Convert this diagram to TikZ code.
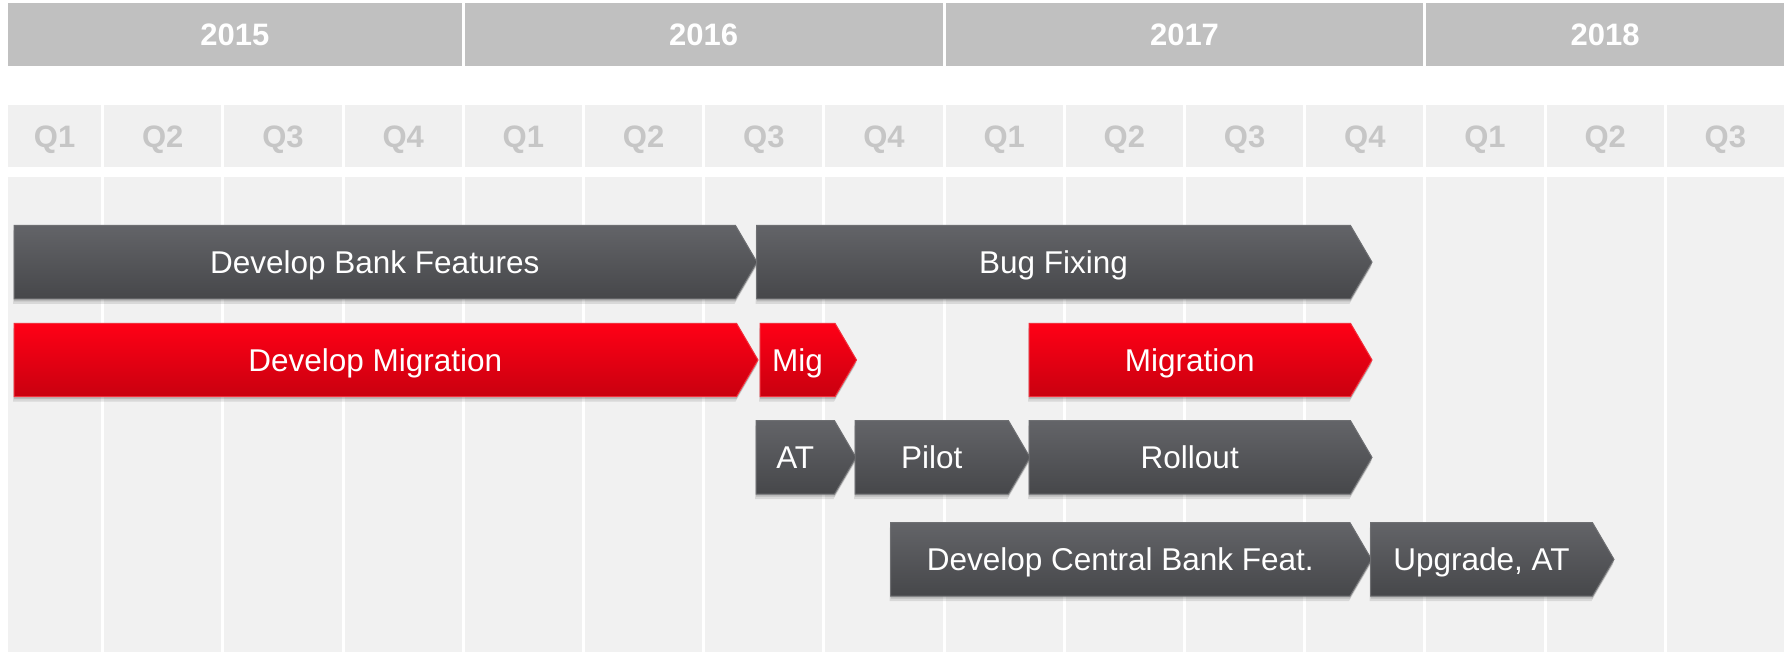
\documentclass[tikz,border=0pt]{standalone}
\usepackage{fontspec}
\setmainfont{Liberation Sans}
\usetikzlibrary{calc}

\definecolor{yearbar}{HTML}{C0C0C0}
\definecolor{qcell}{HTML}{F0F0F0}
\definecolor{qtext}{HTML}{C6C6C6}
\definecolor{gridcell}{HTML}{F1F1F1}
\definecolor{barTop}{HTML}{636468}
\definecolor{barBot}{HTML}{46474A}
\definecolor{barEdge}{HTML}{6E6F72}
\definecolor{redTop}{HTML}{FF0016}
\definecolor{redBot}{HTML}{C9000F}
\definecolor{redEdge}{HTML}{F2303C}

% chevron bar: name, style, left x, body right x, top y, label
\newcommand\chevbar[6]{%
  \path[#2] (#3,#5) -- (#4,#5) -- (#4+21.5,#5+36.65) -- (#4,#5+73.3)
    -- (#3,#5+73.3) -- cycle;
  \node[barlabel] (#1) at ({(#3+#4)/2},#5+36.65) {#6};}

\begin{document}
\begin{tikzpicture}[x=1pt,y=-1pt,
  barshadow/.style={
    preaction={fill=black,opacity=0.10,transform canvas={yshift=-5pt,xshift=-1pt}},
    preaction={fill=black,opacity=0.14,transform canvas={yshift=-2.5pt}}},
  graybar/.style={barshadow,top color=barTop,bottom color=barBot,
    draw=barEdge,line width=1pt,line join=miter},
  redbar/.style={barshadow,top color=redTop,bottom color=redBot,
    draw=redEdge,line width=1pt,line join=miter},
  barlabel/.style={text=white,inner sep=0pt,text height=22.5pt,text depth=0pt,
    font=\fontsize{31.5}{36}\selectfont},
  yearlabel/.style={text=white,inner sep=0pt,text height=22.2pt,text depth=0pt,
    font=\fontsize{31}{36}\selectfont\bfseries},
  qlabel/.style={text=qtext,inner sep=0pt,text height=22.2pt,text depth=0pt,
    font=\fontsize{31}{36}\selectfont\bfseries}]

\fill[white] (0,0) rectangle (1787,652);
\useasboundingbox (0,0) rectangle (1787,652);

% year header
\foreach \yr [count=\i from 0] in {2015,2016,2017,2018}{
  \pgfmathsetmacro\xl{max(8,-16+480.8*\i)}
  \pgfmathsetmacro\xr{min(1784,-19+480.8*(\i+1))}
  \fill[yearbar] (\xl,3.3) rectangle (\xr,65.7);
  \node[yearlabel] (y\yr) at ({(\xl+\xr)/2},34.5) {\yr};
}

% quarter header and grid columns
\foreach \k in {0,...,14}{
  \pgfmathsetmacro\xl{max(8,-16+120.2*\k)}
  \pgfmathsetmacro\xr{min(1784,-19+120.2*(\k+1))}
  \pgfmathtruncatemacro\qn{mod(\k,4)+1}
  \fill[qcell] (\xl,105) rectangle (\xr,167.3);
  \fill[gridcell] (\xl,177.3) rectangle (\xr,660);
  \node[qlabel] (q\k) at ({(\xl+\xr)/2},136.2) {Q\qn};
}

% row 1
\chevbar{dbf}{graybar}{14}{735.5}{225.5}{Develop Bank Features}
\chevbar{bug}{graybar}{756.5}{1350.5}{225.5}{Bug Fixing}
% row 2
\chevbar{devmig}{redbar}{14}{736.5}{323.3}{Develop Migration}
\chevbar{mig}{redbar}{760}{835}{323.3}{Mig}
\chevbar{migr}{redbar}{1029}{1350.5}{323.3}{Migration}
% row 3
\chevbar{at}{graybar}{756}{834.5}{420.7}{AT}
\chevbar{pilot}{graybar}{855}{1008.5}{420.7}{Pilot}
\chevbar{rollout}{graybar}{1029}{1350.5}{420.7}{Rollout}
% row 4
\chevbar{dcbf}{graybar}{890.5}{1350}{522.7}{Develop Central Bank Feat.}
\chevbar{upg}{graybar}{1370.5}{1592.5}{522.7}{Upgrade, AT}

\end{tikzpicture}
\end{document}
